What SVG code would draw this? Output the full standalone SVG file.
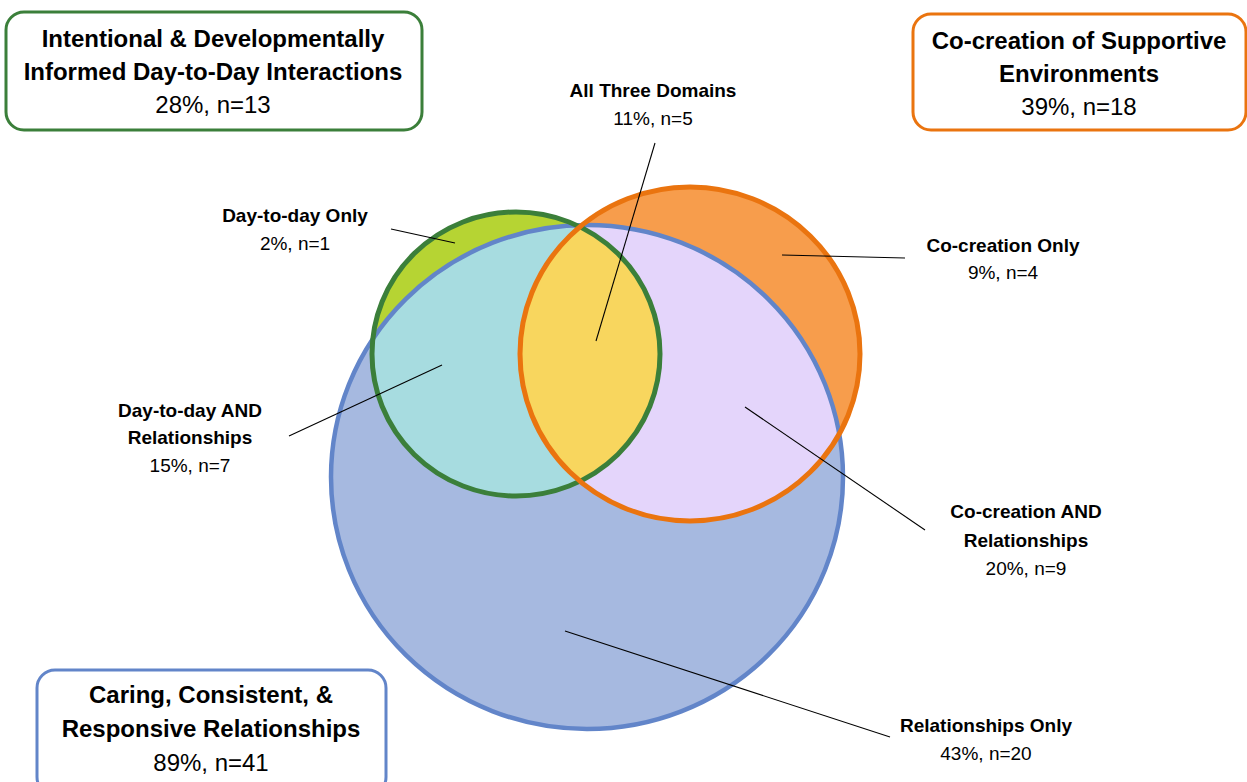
<svg xmlns="http://www.w3.org/2000/svg" width="1247" height="782" viewBox="0 0 1247 782">
<style>
  .hdr { font-family: "Liberation Sans", Arial, sans-serif; font-size: 24px; text-anchor: middle; fill: #000; }
  .lbl { font-family: "Liberation Sans", Arial, sans-serif; font-size: 19px; text-anchor: middle; fill: #000; }
  .b { font-weight: bold; }
  .box { fill: #fff; stroke-width: 3; }
  .lead { stroke: #000; stroke-width: 1.1; fill: none; }
</style>
<defs>
  <clipPath id="cpGreen"><ellipse cx="516" cy="354" rx="144" ry="142"/></clipPath>
  <clipPath id="cpOrange"><ellipse cx="690" cy="354" rx="170" ry="167"/></clipPath>
</defs>
<rect width="1247" height="782" fill="#fff"/>

<g id="venn">
  <g id="set-relationships">
    <ellipse cx="587" cy="477" rx="256" ry="252" fill="#A6B9E0"/>
  </g>
  <g id="set-daytoday">
    <ellipse cx="516" cy="354" rx="144" ry="142" fill="#B6D433"/>
  </g>
  <g id="set-cocreation">
    <ellipse cx="690" cy="354" rx="170" ry="167" fill="#F79D4C"/>
  </g>
  <g id="region-daytoday-rel">
    <ellipse cx="587" cy="477" rx="256" ry="252" fill="#A7DCE0" clip-path="url(#cpGreen)"/>
  </g>
  <g id="region-cocreation-rel">
    <ellipse cx="587" cy="477" rx="256" ry="252" fill="#E4D5FB" clip-path="url(#cpOrange)"/>
  </g>
  <g id="region-all-three">
    <ellipse cx="516" cy="354" rx="144" ry="142" fill="#F8D65E" clip-path="url(#cpOrange)"/>
  </g>
  <g id="outlines" fill="none">
    <ellipse cx="587" cy="477" rx="256" ry="252" stroke="#6285C9" stroke-width="4.5"/>
    <ellipse cx="516" cy="354" rx="144" ry="142" stroke="#3B7F3A" stroke-width="5"/>
    <ellipse cx="690" cy="354" rx="170" ry="167" stroke="#EA740F" stroke-width="5"/>
  </g>
</g>

<g id="connectors">
  <line class="lead" x1="391" y1="229" x2="455" y2="243"/>
  <line class="lead" x1="655" y1="143" x2="596" y2="341"/>
  <line class="lead" x1="782" y1="255" x2="905" y2="258"/>
  <line class="lead" x1="289" y1="436" x2="442" y2="365"/>
  <line class="lead" x1="745" y1="407" x2="925" y2="530"/>
  <line class="lead" x1="565" y1="631" x2="890" y2="737"/>
</g>

<g id="box-daytoday">
  <rect class="box" x="6" y="12" width="416" height="118" rx="18" stroke="#3B7F3A"/>
  <text class="hdr b" x="213" y="47">Intentional &amp; Developmentally</text>
  <text class="hdr b" x="213" y="80">Informed Day-to-Day Interactions</text>
  <text class="hdr" x="213" y="113">28%, n=13</text>
</g>

<g id="box-cocreation">
  <rect class="box" x="913" y="14" width="333" height="116" rx="18" stroke="#EA740F"/>
  <text class="hdr b" x="1079" y="49">Co-creation of Supportive</text>
  <text class="hdr b" x="1079" y="82">Environments</text>
  <text class="hdr" x="1079" y="115">39%, n=18</text>
</g>

<g id="box-relationships">
  <rect class="box" x="37" y="670" width="349" height="125" rx="18" stroke="#6285C9"/>
  <text class="hdr b" x="211" y="703">Caring, Consistent, &amp;</text>
  <text class="hdr b" x="211" y="737">Responsive Relationships</text>
  <text class="hdr" x="211" y="771">89%, n=41</text>
</g>

<g id="label-daytoday-only">
  <text class="lbl b" x="295" y="222">Day-to-day Only</text>
  <text class="lbl" x="295" y="250">2%, n=1</text>
</g>
<g id="label-all-three">
  <text class="lbl b" x="653" y="97">All Three Domains</text>
  <text class="lbl" x="653" y="125">11%, n=5</text>
</g>
<g id="label-cocreation-only">
  <text class="lbl b" x="1003" y="252">Co-creation Only</text>
  <text class="lbl" x="1003" y="279">9%, n=4</text>
</g>
<g id="label-daytoday-rel">
  <text class="lbl b" x="190" y="417">Day-to-day AND</text>
  <text class="lbl b" x="190" y="444">Relationships</text>
  <text class="lbl" x="190" y="472">15%, n=7</text>
</g>
<g id="label-cocreation-rel">
  <text class="lbl b" x="1026" y="518">Co-creation AND</text>
  <text class="lbl b" x="1026" y="547">Relationships</text>
  <text class="lbl" x="1026" y="575">20%, n=9</text>
</g>
<g id="label-relationships-only">
  <text class="lbl b" x="986" y="732">Relationships Only</text>
  <text class="lbl" x="986" y="760">43%, n=20</text>
</g>
</svg>
